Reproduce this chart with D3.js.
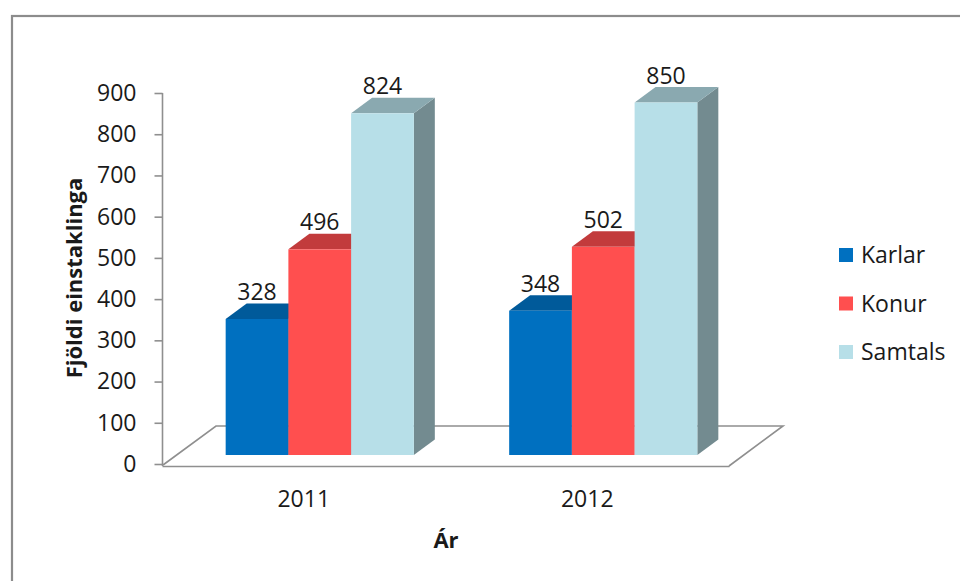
<!DOCTYPE html>
<html>
<head>
<meta charset="utf-8">
<script src="https://cdn.jsdelivr.net/npm/d3@7"></script>
<style>
  html, body { margin: 0; padding: 0; background: #fff; }
  svg { display: block; }
  text { font-family: "Open Sans", "Liberation Sans", sans-serif; fill: #1a1a1a; }
</style>
</head>
<body>
<svg id="chart" width="960" height="581"></svg>
<script>
// Data
const categories = ["2011", "2012"];
const seriesNames = ["Karlar", "Konur", "Samtals"];
const karlar = [328, 348];
const konur = [496, 502];
const samtals = [824, 850];
const yTicks = [0, 100, 200, 300, 400, 500, 600, 700, 800, 900];
const yTitle = "Fjöldi einstaklinga";
const xTitle = "Ár";

const seriesValues = { Karlar: karlar, Konur: konur, Samtals: samtals };

// Face colours per series: front, top, side
const palette = {
  Karlar:  { front: "#0070c0", top: "#005a9a", side: "#004f88" },
  Konur:   { front: "#ff4f4f", top: "#c23b3c", side: "#b03435" },
  Samtals: { front: "#b7dfe8", top: "#8aa9b0", side: "#738b90" }
};

const svg = d3.select("#chart");
const FONT = 23;

// Outer chart frame
svg.append("rect")
  .attr("x", 12).attr("y", 16)
  .attr("width", 980).attr("height", 600)
  .attr("fill", "none")
  .attr("stroke", "#8c8c8c")
  .attr("stroke-width", 2.2);

// Scales: axis plane and front plane of the bars
const yAxisScale = d3.scaleLinear().domain([0, 900]).range([464, 93]);
const yFront = d3.scaleLinear().domain([0, 900]).range([455, 81.8]);

const x0 = d3.scaleBand().domain(categories).range([162, 729]).paddingInner(0).paddingOuter(0);
const x1 = d3.scaleBand().domain(seriesNames).range([0, x0.bandwidth()]).paddingInner(0).paddingOuter(0.76);

// Oblique projection offsets
const floorDepth = { dx: 54, dy: -40 };
const barShift = { dx: 16, dy: 0 };      // bars sit a little behind the floor's front edge
const barDepth = { dx: 21, dy: -15.5 };

// Floor
const fy = yAxisScale(0) + 2;
const fx0 = x0.range()[0], fx1 = x0.range()[1];
svg.append("path")
  .attr("d", d3.line()([
    [fx0 + 1, fy - 1],
    [fx0 + floorDepth.dx, fy + floorDepth.dy],
    [fx1 + floorDepth.dx, fy + floorDepth.dy],
    [fx1, fy]
  ]))
  .attr("fill", "#fff")
  .attr("stroke", "#8f8f8f")
  .attr("stroke-width", 1.6);

// Y axis
const yAxis = svg.append("g")
  .attr("transform", "translate(162.5,0)")
  .call(d3.axisLeft(yAxisScale).tickValues(yTicks).tickSize(8).tickSizeOuter(0).tickPadding(18));
yAxis.select(".domain").attr("stroke", "#8f8f8f").attr("stroke-width", 1.6)
  .attr("d", `M0,${yAxisScale(900)}V${fy}`);
yAxis.selectAll(".tick line").attr("stroke", "#8f8f8f").attr("stroke-width", 1.6);
yAxis.selectAll(".tick text").attr("font-size", FONT).attr("fill", "#1a1a1a")
  .attr("font-family", "'Open Sans', 'Liberation Sans', sans-serif");

// X axis (front edge of the floor)
const xAxis = svg.append("g")
  .attr("transform", `translate(0,${fy})`)
  .call(d3.axisBottom(x0).tickSize(0).tickSizeOuter(0).tickPadding(25));
xAxis.select(".domain").attr("stroke", "#8f8f8f").attr("stroke-width", 1.6);
xAxis.selectAll(".tick text").attr("font-size", FONT).attr("fill", "#1a1a1a")
  .attr("font-family", "'Open Sans', 'Liberation Sans', sans-serif");

// Bars (drawn left to right so later faces cover hidden sides)
const bars = [];
categories.forEach((c, ci) => {
  seriesNames.forEach(s => {
    bars.push({ cat: c, series: s, value: seriesValues[s][ci] });
  });
});

const barG = svg.append("g");
bars.forEach(b => {
  const xl = x0(b.cat) + x1(b.series) + barShift.dx;
  const xr = xl + x1.bandwidth();
  const yt = yFront(b.value);
  const yb = yFront(0);
  const col = palette[b.series];
  const g = barG.append("g");
  // side
  g.append("path")
    .attr("d", d3.line()([[xr, yt], [xr + barDepth.dx, yt + barDepth.dy], [xr + barDepth.dx, yb + barDepth.dy], [xr, yb]]) + "Z")
    .attr("fill", col.side);
  // top
  g.append("path")
    .attr("d", d3.line()([[xl, yt], [xl + barDepth.dx, yt + barDepth.dy], [xr + barDepth.dx, yt + barDepth.dy], [xr, yt]]) + "Z")
    .attr("fill", col.top);
  // front
  g.append("rect")
    .attr("x", xl).attr("y", yt)
    .attr("width", x1.bandwidth()).attr("height", yb - yt)
    .attr("fill", col.front);
});

// Value labels
svg.append("g").selectAll("text")
  .data(bars)
  .join("text")
  .attr("x", d => x0(d.cat) + x1(d.series) + barShift.dx + x1.bandwidth() / 2)
  .attr("y", d => yFront(d.value) + barDepth.dy - 3.5)
  .attr("text-anchor", "middle")
  .attr("font-size", FONT)
  .text(d => d.value);

// Axis titles
svg.append("text")
  .attr("transform", "translate(81.5,278) rotate(-90)")
  .attr("text-anchor", "middle")
  .attr("font-size", 22)
  .attr("font-weight", "bold")
  .text(yTitle);

svg.append("text")
  .attr("x", 446).attr("y", 548)
  .attr("text-anchor", "middle")
  .attr("font-size", 22)
  .attr("font-weight", "bold")
  .text(xTitle);

// Legend
const legend = svg.append("g").selectAll("g")
  .data(seriesNames)
  .join("g")
  .attr("transform", (d, i) => `translate(839,${255 + i * 48.5})`);
legend.append("rect")
  .attr("x", 0).attr("y", -7)
  .attr("width", 14).attr("height", 14)
  .attr("fill", d => palette[d].front);
legend.append("text")
  .attr("x", 22).attr("y", 0)
  .attr("dy", "0.36em")
  .attr("font-size", FONT)
  .text(d => d);
</script>
</body>
</html>
